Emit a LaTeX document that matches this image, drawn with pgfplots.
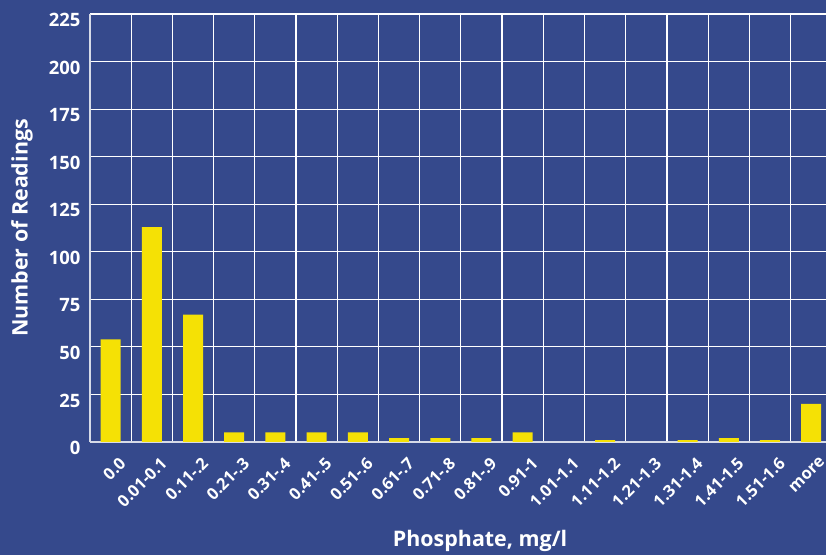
\documentclass[border=0pt]{standalone}
\usepackage{pgfplots}
\pgfplotsset{compat=1.18}
\usepackage{fontspec}
\setmainfont{Open Sans}
\definecolor{bg}{RGB}{53,73,140}
\definecolor{bary}{RGB}{245,225,5}
\begin{document}
\begin{tikzpicture}
\fill[bg] (0,0) rectangle (826bp,555bp);
\path[use as bounding box] (0,0) rectangle (826bp,555bp);
\begin{axis}[
 at={(90bp,113bp)}, anchor=south west,
 scale only axis, width=736bp, height=428bp,
 xmin=-0.5, xmax=17.36, ymin=0, ymax=225,
 ytick={0,25,...,225},
 xtick={0,...,17},
 xticklabels={0.0,0.01-0.1,0.11-.2,0.21-.3,0.31-.4,0.41-.5,0.51-.6,0.61-.7,0.71-.8,0.81-.9,0.91-1,1.01-1.1,1.11-1.2,1.21-1.3,1.31-1.4,1.41-1.5,1.51-1.6,more},
 minor xtick={0.5,1.5,...,16.5},
 ymajorgrids, xminorgrids,
 grid style={white, line width=1.2bp},
 minor grid style={white, line width=1.2bp},
 axis x line*=bottom, axis y line*=left,
 axis line style={draw=white!80!bg, line width=1.6bp, -},
 major tick length=0, minor tick length=0,
 tick label style={white},
 /pgf/number format/assume math mode=true,
 yticklabel style={font=\fontsize{18.5}{18.5}\selectfont\bfseries, yshift=-6bp, xshift=-6bp},
 xticklabel style={font=\fontsize{16.5}{16.5}\selectfont\bfseries, rotate=45, anchor=north east, yshift=-12bp, xshift=-1bp},
 ylabel={Number of Readings}, xlabel={Phosphate, mg/l},
 label style={white, font=\fontsize{21.5}{21.5}\selectfont\bfseries},
 ylabel style={at={(axis description cs:-0.0924,0.5)}, anchor=center},
 xlabel style={at={(axis description cs:0.53,-0.231)}, anchor=center},
]
\addplot[ybar, bar width=20bp, fill=bary, draw=none] coordinates {
(0,54) (1,113) (2,67) (3,5) (4,5) (5,5) (6,5) (7,2) (8,2) (9,2) (10,5) (11,0) (12,1) (13,0) (14,1) (15,2) (16,1) (17,20)};
\end{axis}
\end{tikzpicture}
\end{document}
